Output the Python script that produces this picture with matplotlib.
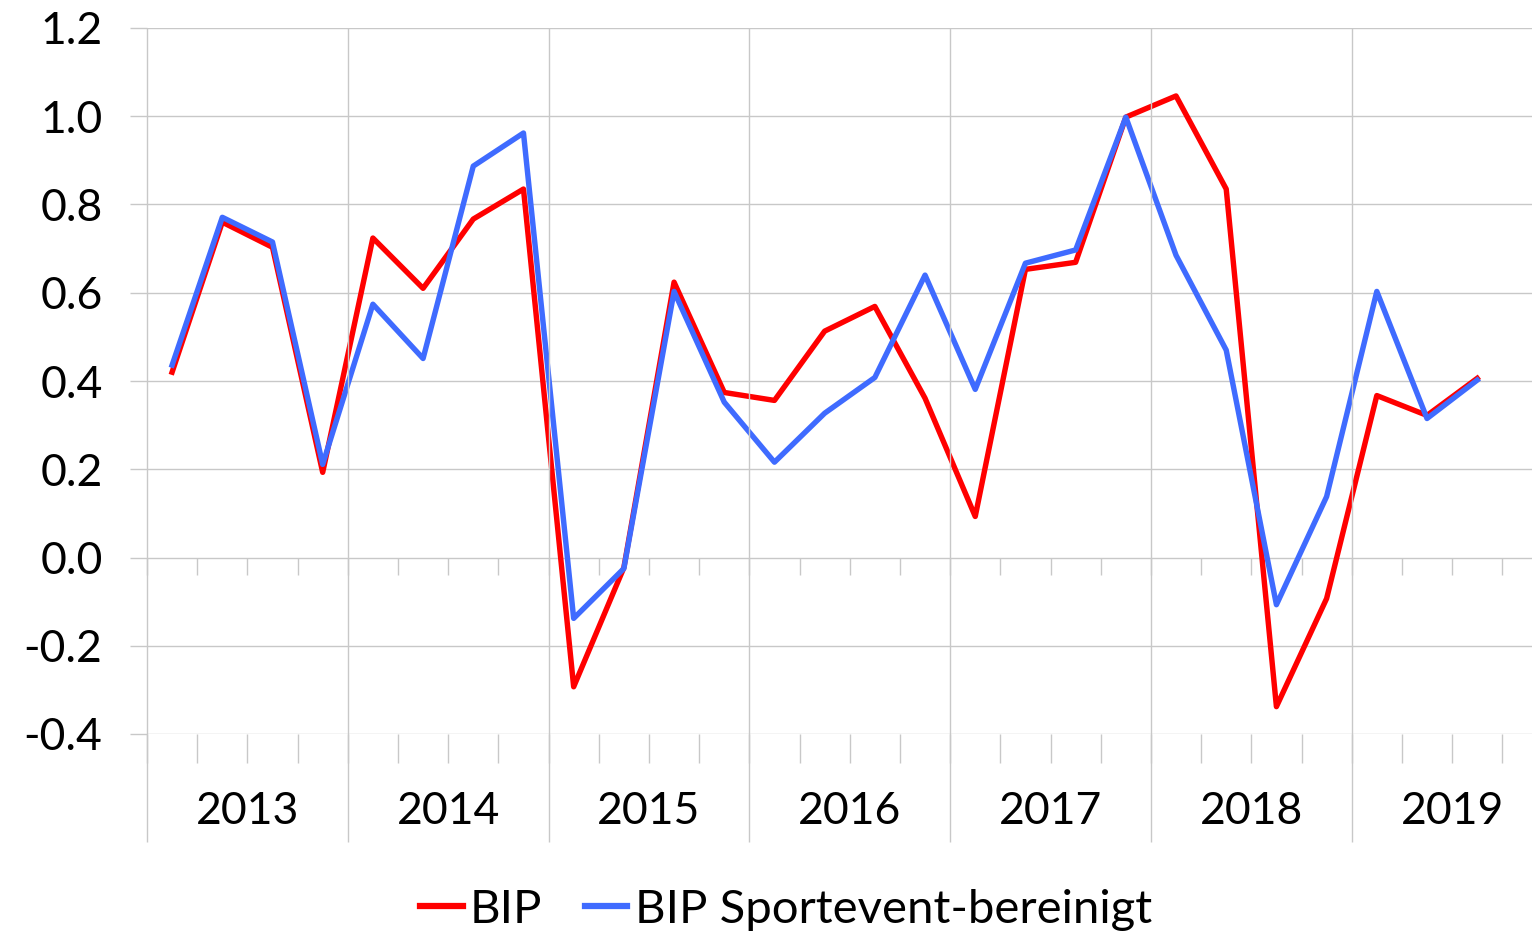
import numpy as np
import matplotlib.pyplot as plt

plt.rcParams['font.family'] = ['Lato', 'DejaVu Sans']

years = ['2013', '2014', '2015', '2016', '2017', '2018', '2019']
quarters_per_year = [4, 4, 4, 4, 4, 4, 3]

bip = [0.42, 0.76, 0.703, 0.193,
       0.724, 0.61, 0.767, 0.835,
       -0.293, -0.023, 0.624, 0.374,
       0.356, 0.513, 0.569, 0.361,
       0.093, 0.653, 0.669, 0.998,
       1.046, 0.835, -0.338, -0.093,
       0.367, 0.322, 0.406]

bip_sport = [0.436, 0.771, 0.715, 0.211,
             0.574, 0.451, 0.887, 0.962,
             -0.138, -0.025, 0.603, 0.352,
             0.216, 0.327, 0.408, 0.64,
             0.381, 0.667, 0.697, 0.998,
             0.685, 0.47, -0.107, 0.138,
             0.603, 0.315, 0.402]

grid_col = '#C8C8C8'
fs = 32

fig = plt.figure(figsize=(15.32, 9.34), dpi=100)
ax = fig.add_axes([147/1532, 1-734/934, 1-147/1532, 706/934])

x = np.arange(len(bip))
ax.plot(x, bip, color='#FF0000', lw=3.9, label='BIP', solid_joinstyle='round')
ax.plot(x, bip_sport, color='#3F6BFF', lw=3.9, label='BIP Sportevent-bereinigt',
        solid_joinstyle='round')

ax.set_ylim(-0.4, 1.2)
ax.set_xlim(-0.5, (1532-172)/50.2)
yt = np.arange(-0.4, 1.21, 0.2)
ax.set_yticks(yt)
ax.set_yticklabels(['%.1f' % v for v in yt], fontsize=fs)
ax.yaxis.grid(True, color=grid_col, lw=1.0)
ax.tick_params(axis='y', length=12, color=grid_col, width=1.0, pad=20, labelcolor='black')
ax.set_axisbelow(True)

for s in ['top', 'right', 'left']:
    ax.spines[s].set_visible(False)
# quarter ticks on the zero line
ax.spines['bottom'].set_position(('data', 0))
ax.spines['bottom'].set_visible(False)
bounds = np.arange(-0.5, len(bip), 1.0)
ax.set_xticks(bounds)
ax.set_xticklabels([])
ax.tick_params(axis='x', length=12, color=grid_col, width=1.0, direction='out')

trans = ax.get_xaxis_transform()
# quarter ticks below the plot
ax.vlines(bounds, -29/706, 0, transform=trans, colors=grid_col, lw=1.0, clip_on=False)

# year dividers and labels
start = 0
for yr, n in zip(years, quarters_per_year):
    ax.vlines(start - 0.5, -108/706, 1, transform=trans, colors=grid_col, lw=1.0,
              clip_on=False)
    ax.text(start + 1.5, -78/706, yr, transform=trans, ha='center', va='center',
            fontsize=fs, color='black')
    start += n

leg = fig.legend(loc='center', bbox_to_anchor=(786/1532, 1-910/934), ncol=2,
                 frameon=False, fontsize=34, handlelength=0.9, handletextpad=0.15,
                 columnspacing=0.9)
for h in leg.get_lines():
    h.set_linewidth(4.5)

fig.savefig('out.png', dpi=100)
